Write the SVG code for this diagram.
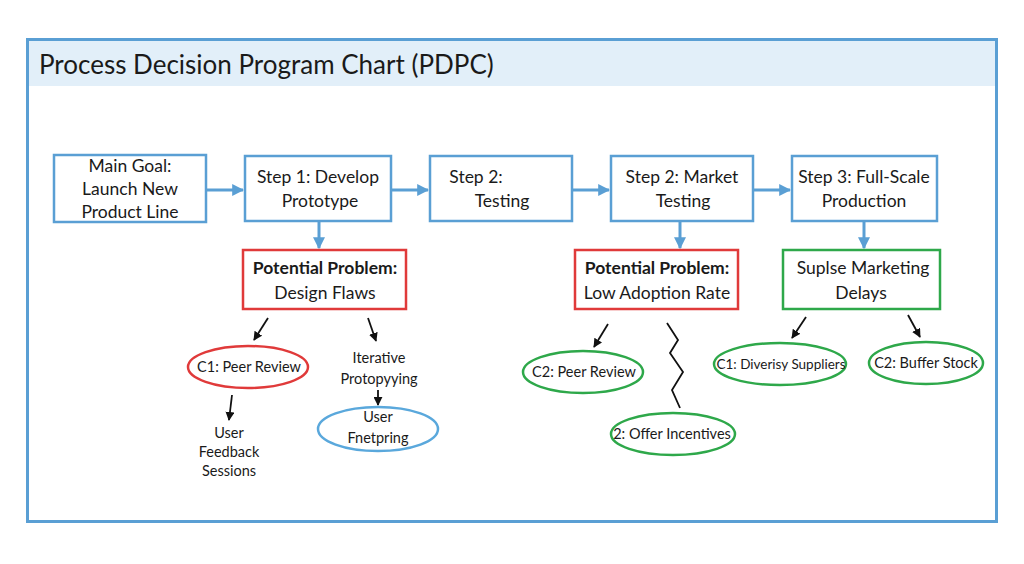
<svg xmlns="http://www.w3.org/2000/svg" width="1024" height="564" viewBox="0 0 1024 564">
<defs>
<marker id="ab" viewBox="0 0 10 10" refX="9" refY="5" markerWidth="4" markerHeight="4" orient="auto"><path d="M0,0 L10,5 L0,10 z" fill="#5a9fd4"/></marker>
<marker id="ak" viewBox="0 0 10 10" refX="9" refY="5" markerWidth="5" markerHeight="5" orient="auto"><path d="M0,0 L10,5 L0,10 z" fill="#111"/></marker>
</defs>
<style>
text{font-family:Lato,"Open Sans","Liberation Sans",sans-serif;fill:#1a1a1a;text-anchor:middle}
.box{fill:#fff;stroke:#5a9fd4;stroke-width:2.5}
.red{fill:#fff;stroke:#e03a3a;stroke-width:2.5}
.grn{fill:#fff;stroke:#2ea84a;stroke-width:2.5}
.blu{fill:#fff;stroke:#5aa8dc;stroke-width:2.5}
.t{font-size:17.5px}
.s{font-size:14.5px}
.bl{stroke:#5a9fd4;stroke-width:3;fill:none}
.bk{stroke:#111;stroke-width:1.8;fill:none}
</style>
<rect x="0" y="0" width="1024" height="564" fill="#fff"/>
<rect x="27.5" y="39.5" width="969" height="482" fill="#fff" stroke="#5a9fd4" stroke-width="3"/>
<rect x="29" y="41" width="966" height="45" fill="#e2eff9"/>
<text x="39" y="74" style="font-size:26px;text-anchor:start">Process Decision Program Chart (PDPC)</text>

<g id="connectors">
<line class="bl" x1="207" y1="190" x2="243" y2="190" marker-end="url(#ab)"/>
<line class="bl" x1="392" y1="190" x2="428" y2="190" marker-end="url(#ab)"/>
<line class="bl" x1="573" y1="190" x2="609" y2="190" marker-end="url(#ab)"/>
<line class="bl" x1="754" y1="190" x2="790" y2="190" marker-end="url(#ab)"/>
<line class="bl" x1="319" y1="222" x2="319" y2="248" marker-end="url(#ab)"/>
<line class="bl" x1="680" y1="222" x2="680" y2="248" marker-end="url(#ab)"/>
<line class="bl" x1="864" y1="222" x2="864" y2="248" marker-end="url(#ab)"/>
<line class="bk" x1="268" y1="318" x2="254" y2="340" marker-end="url(#ak)"/>
<line class="bk" x1="368" y1="318" x2="376" y2="341" marker-end="url(#ak)"/>
<line class="bk" x1="232" y1="395" x2="229" y2="420" marker-end="url(#ak)"/>
<line class="bk" x1="378" y1="390" x2="378" y2="405" marker-end="url(#ak)"/>
<line class="bk" x1="608" y1="324" x2="594" y2="347" marker-end="url(#ak)"/>
<polyline class="bk" points="667,323 678,340 670,353 683,372 672,390 680,408"/>
<line class="bk" x1="806" y1="317" x2="792" y2="338" marker-end="url(#ak)"/>
<line class="bk" x1="908" y1="315" x2="920" y2="337" marker-end="url(#ak)"/>
</g>

<g id="main"><rect class="box" x="54" y="155" width="152" height="67"/>
<text class="t" x="130" y="172">Main Goal:</text><text class="t" x="130" y="195">Launch New</text><text class="t" x="130" y="218">Product Line</text></g>
<g id="step1"><rect class="box" x="245" y="156" width="146" height="65"/>
<text class="t" x="318" y="183">Step 1: Develop</text><text class="t" x="320" y="207">Prototype</text></g>
<g id="step2"><rect class="box" x="430" y="156" width="142" height="65"/>
<text class="t" x="476" y="183">Step 2:</text><text class="t" x="502" y="207">Testing</text></g>
<g id="step2m"><rect class="box" x="611" y="156" width="142" height="65"/>
<text class="t" x="682" y="183">Step 2: Market</text><text class="t" x="683" y="207">Testing</text></g>
<g id="step3"><rect class="box" x="792" y="156" width="145" height="65"/>
<text class="t" x="864" y="183">Step 3: Full-Scale</text><text class="t" x="864" y="207">Production</text></g>

<g id="prob1"><rect class="red" x="243" y="250" width="163" height="59"/>
<text class="t" x="325" y="274" font-weight="bold">Potential Problem:</text><text class="t" x="325" y="299">Design Flaws</text></g>
<g id="prob2"><rect class="red" x="575" y="250" width="163" height="59"/>
<text class="t" x="657" y="274" font-weight="bold">Potential Problem:</text><text class="t" x="657" y="299">Low Adoption Rate</text></g>
<g id="prob3"><rect class="grn" x="783" y="250" width="157" height="59"/>
<text class="t" x="863" y="274">Suplse Marketing</text><text class="t" x="861" y="299">Delays</text></g>

<g id="c1peer"><ellipse class="red" cx="248" cy="367" rx="60" ry="21"/><text class="s" x="249" y="372">C1: Peer Review</text></g>
<g id="iter"><text class="s" x="379" y="363">Iterative</text><text class="s" x="379" y="384">Protopyying</text></g>
<g id="ufs"><text class="s" x="229" y="438">User</text><text class="s" x="229" y="457">Feedback</text><text class="s" x="229" y="476">Sessions</text></g>
<g id="ufn"><ellipse class="blu" cx="378" cy="429" rx="60" ry="22"/><text class="s" x="378" y="422">User</text><text class="s" x="378" y="443">Fnetpring</text></g>
<g id="c2peer"><ellipse class="grn" cx="583" cy="372" rx="60" ry="21"/><text class="s" x="584" y="377">C2: Peer Review</text></g>
<g id="offer"><ellipse class="grn" cx="673" cy="434" rx="62" ry="21"/><text class="s" x="672" y="439">2: Offer Incentives</text></g>
<g id="c1div"><ellipse class="grn" cx="780" cy="364" rx="66" ry="21"/><text class="s" x="781" y="369" style="font-size:13.5px">C1: Diverisy Suppliers</text></g>
<g id="c2buf"><ellipse class="grn" cx="926" cy="363" rx="57" ry="21"/><text class="s" x="926" y="368">C2: Buffer Stock</text></g>
</svg>
